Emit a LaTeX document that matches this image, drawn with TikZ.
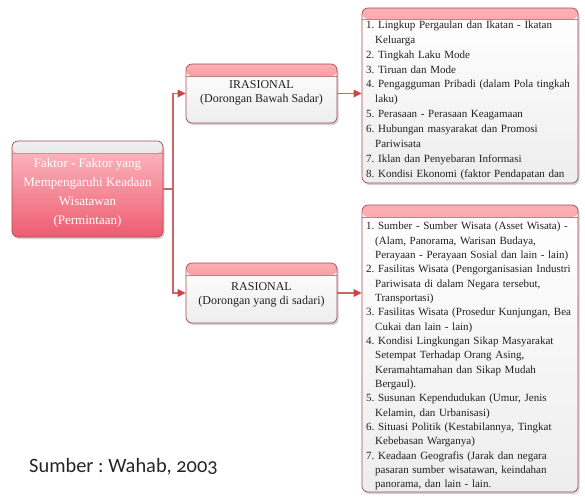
\documentclass[tikz,border=0pt]{standalone}
\usepackage{fontspec}
\setmainfont{Liberation Serif}
\newfontfamily\srcfont[Numbers=OldStyle]{Carlito}
\usetikzlibrary{shadows}
\definecolor{boxedge}{RGB}{165,75,80}
\definecolor{hpinktop}{RGB}{252,175,180}
\definecolor{hpinkbot}{RGB}{232,95,108}
\definecolor{lpinktop}{RGB}{252,190,198}
\definecolor{lpinkbot}{RGB}{238,92,112}
\definecolor{connedge}{RGB}{205,100,105}
\definecolor{tipcol}{RGB}{200,70,72}
\definecolor{txt}{RGB}{35,30,30}
\newcommand\nxl{\newline\hspace*{9pt}}
\begin{document}
\frenchspacing
\begin{tikzpicture}[x=1pt,y=-1pt,
  panel/.style={draw=boxedge, line width=0.7pt, rounded corners=6pt, inner sep=0pt,
    drop shadow={opacity=0.35, shadow xshift=1.5pt, shadow yshift=-2pt}},
  whitebody/.style={top color=white, bottom color=gray!14},
  pinkbody/.style={top color=lpinktop, bottom color=lpinkbot},
  headpink/.style={path picture={
    \shade[top color=hpinktop, bottom color=hpinkbot] (path picture bounding box.north west) rectangle ([yshift=-#1]path picture bounding box.north east);
    \draw[boxedge!70, line width=0.5pt] ([yshift=-#1]path picture bounding box.north west) -- ([yshift=-#1]path picture bounding box.north east);}},
  headpink/.default=12pt,
  headgrey/.style={path picture={
    \shade[top color=gray!12, bottom color=gray!45] (path picture bounding box.north west) rectangle ([yshift=-#1]path picture bounding box.north east);
    \draw[boxedge!60, line width=0.5pt] ([yshift=-#1]path picture bounding box.north west) -- ([yshift=-#1]path picture bounding box.north east);}},
  headgrey/.default=12pt,
  conn/.style={draw=connedge, line width=1.5pt},
  tip/.style={fill=tipcol},
  midtext/.style={align=center, text=txt, font=\fontsize{12}{13.5}\selectfont, inner sep=0pt},
  listtext/.style={align=left, text=txt, text width=216pt, inner sep=0pt, anchor=north west},
]
\fill[white] (0,0) rectangle (585,499);
\useasboundingbox (0,0) rectangle (585,499);

% boxes
\node[panel, pinkbody, headgrey, minimum width=151pt, minimum height=96pt] (faktor) at (87.5,189) {};
\node[panel, whitebody, headpink, minimum width=151pt, minimum height=59pt] (irr) at (261.5,93.5) {};
\node[panel, whitebody, headpink, minimum width=151pt, minimum height=60pt] (ras) at (261.5,293) {};
\node[panel, whitebody, headpink=11pt, minimum width=216pt, minimum height=175pt] (list1) at (470,95.5) {};
\node[panel, whitebody, headpink, minimum width=216pt, minimum height=287pt] (list2) at (470,348.5) {};

% texts
\node[align=center, text=white, font=\fontsize{13}{19}\selectfont, inner sep=0pt] (faktortxt) at (87.5,193)
  {Faktor - Faktor yang\\Mempengaruhi Keadaan\\Wisatawan\\(Permintaan)};
\node[midtext] (irrtxt) at (261.5,93) {IRASIONAL\\(Dorongan Bawah Sadar)};
\node[midtext] (rastxt) at (261.5,295) {RASIONAL\\(Dorongan yang di sadari)};

\node[listtext, font=\fontsize{11}{14.9}\selectfont] (list1txt) at (366,20.5) {%
  1. Lingkup Pergaulan dan Ikatan - Ikatan\nxl Keluarga\newline
  2. Tingkah Laku Mode\newline
  3. Tiruan dan Mode\newline
  4. Pengagguman Pribadi (dalam Pola tingkah\nxl laku)\newline
  5. Perasaan - Perasaan Keagamaan\newline
  6. Hubungan masyarakat dan Promosi\nxl Pariwisata\newline
  7. Iklan dan Penyebaran Informasi\newline
  8. Kondisi Ekonomi (faktor Pendapatan dan};

\node[listtext, font=\fontsize{11}{14.33}\selectfont] (list2txt) at (366,222) {%
  1. Sumber - Sumber Wisata (Asset Wisata) -\nxl (Alam, Panorama, Warisan Budaya,\nxl Perayaan - Perayaan Sosial dan lain - lain)\newline
  2. Fasilitas Wisata (Pengorganisasian Industri\nxl Pariwisata di dalam Negara tersebut,\nxl Transportasi)\newline
  3. Fasilitas Wisata (Prosedur Kunjungan, Bea\nxl Cukai dan lain - lain)\newline
  4. Kondisi Lingkungan Sikap Masyarakat\nxl Setempat Terhadap Orang Asing,\nxl Keramahtamahan dan Sikap Mudah\nxl Bergaul).\newline
  5. Susunan Kependudukan (Umur, Jenis\nxl Kelamin, dan Urbanisasi)\newline
  6. Situasi Politik (Kestabilannya, Tingkat\nxl Kebebasan Warganya)\newline
  7. Keadaan Geografis (Jarak dan negara\nxl pasaran sumber wisatawan, keindahan\nxl panorama, dan lain - lain.};

\node[font=\srcfont\fontsize{20.4}{24}\selectfont, text=black!85, inner sep=0pt] (src) at (123.5,467) {Sumber : Wahab, 2003};

% connectors
\coordinate (jn) at (173,189);
\draw[conn] (faktor.east) -- (jn);
\draw[conn] ([xshift=-5pt]irr.west) -| (jn) |- ([xshift=-5pt]ras.west);
\draw[conn] (irr.east) -- ([xshift=-6pt]irr.east -| list1.west);
\draw[conn] (ras.east) -- ([xshift=-6pt]ras.east -| list2.west);
\fill[tip] (irr.west) -- ++(-8,-4) -- ++(0,8) -- cycle;
\fill[tip] (ras.west) -- ++(-8,-4) -- ++(0,8) -- cycle;
\fill[tip] (irr.east -| list1.west) -- ++(-8,-4) -- ++(0,8) -- cycle;
\fill[tip] (ras.east -| list2.west) -- ++(-8,-4) -- ++(0,8) -- cycle;
\end{tikzpicture}
\end{document}
